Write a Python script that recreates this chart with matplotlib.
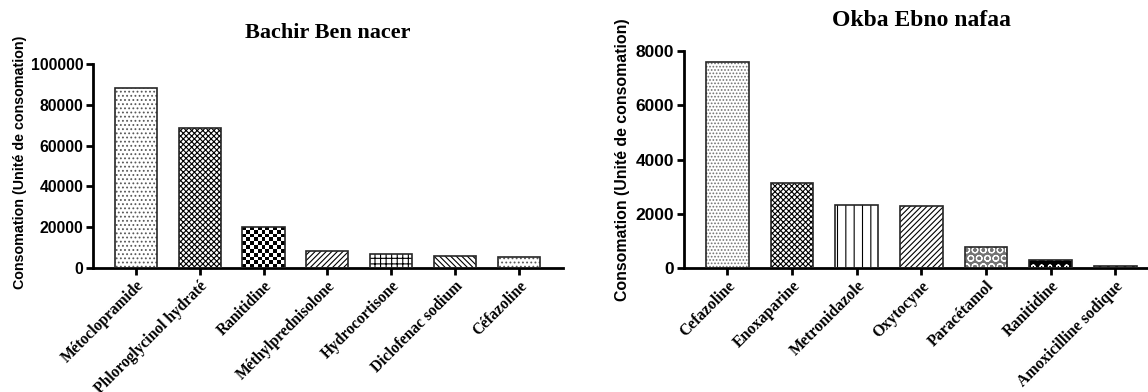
#importing libraries
import numpy as np
import matplotlib.pyplot as plt

plt.rcParams['hatch.linewidth'] = 0.8

# data - Bachir Ben nacer
drugs_bbn = ['Métoclopramide', 'Phloroglycinol hydraté', 'Ranitidine', 'Méthylprednisolone',
             'Hydrocortisone', 'Diclofenac sodium', 'Céfazoline']
conso_bbn = [88400, 68800, 20200, 8400, 6700, 6000, 5500]

# data - Okba Ebno nafaa
drugs_oen = ['Cefazoline', 'Enoxaparine', 'Metronidazole', 'Oxytocyne',
             'Paracétamol', 'Ranitidine', 'Amoxicilline sodique']
conso_oen = [7600, 3150, 2340, 2300, 770, 300, 100]

# bar styles (face, hatch, hatch colour)
style_bbn = [('white', '....', '0.35'), ('white', 'xxxxxx', 'black'), ('white', 'checker', 'black'),
             ('white', '//////', 'black'), ('white', '+++', 'black'), ('white', '\\\\\\\\\\\\', 'black'),
             ('white', '....', '0.35')]
style_oen = [('white', '.....', '0.45'), ('white', 'xxxxxx', 'black'), ('white', '||', 'black'),
             ('white', '//////', 'black'), ('0.45', 'OO', 'white'), ('black', 'oo', 'white'),
             ('0.75', '..', 'black')]

fig = plt.figure(figsize=(11.48, 3.92), dpi=100)
ax1 = fig.add_axes([93/1148, 1-268/392, 470/1148, 204/392])
ax2 = fig.add_axes([684/1148, 1-268.3/392, 476/1148, 217.6/392])


def draw(ax, names, values, styles, title, ymax, ystep, title_y, tsize, lsize, xsize, ttsize):
    x = np.arange(len(names))
    ax.set_xlim(-0.67, 6.69)
    ax.set_ylim(0, ymax)
    for i in range(len(names)):
        face, hatch, hcol = styles[i]
        if hatch == 'checker':
            b = ax.bar(x[i], values[i], width=0.66, color='white', lw=0, zorder=2)
            # pixel size of the bar, to get square cells
            p0 = ax.transData.transform((x[i] - 0.33, 0))
            p1 = ax.transData.transform((x[i] + 0.33, values[i]))
            ncol = 11
            nrow = int(round(ncol * (p1[1] - p0[1]) / (p1[0] - p0[0])))
            chk = np.indices((nrow, ncol)).sum(axis=0) % 2
            im = ax.imshow(chk, cmap='gray', interpolation='nearest', aspect='auto',
                           extent=(x[i] - 0.33, x[i] + 0.33, 0, values[i]), zorder=2)
            im.set_clip_path(b.patches[0])
        else:
            ax.bar(x[i], values[i], width=0.66, color=face, edgecolor=hcol, hatch=hatch, lw=0, zorder=2)
        ax.bar(x[i], values[i], width=0.66, fill=False, edgecolor='0.15', lw=1.2, zorder=3)
    ax.set_xlim(-0.67, 6.69)
    ax.set_ylim(0, ymax)
    yt = np.arange(0, ymax + 1, ystep)
    ax.set_yticks(yt, labels=[str(v) for v in yt], family='Liberation Sans',
                  fontweight='bold', fontsize=tsize)
    ax.set_xticks(x, labels=names, rotation=45, ha='right', rotation_mode='anchor',
                  family='Liberation Serif', fontweight='bold', fontsize=xsize)
    ax.spines['top'].set_visible(False)
    ax.spines['right'].set_visible(False)
    ax.spines['left'].set_linewidth(2)
    ax.spines['bottom'].set_linewidth(2)
    ax.tick_params(width=2, length=5, pad=2)
    ax.set_ylabel('Consomation (Unité de consomation)', family='Liberation Sans',
                  fontweight='bold', fontsize=lsize)
    ax.set_title(title, family='Liberation Serif', fontweight='bold', fontsize=ttsize, y=title_y)


draw(ax1, drugs_bbn, conso_bbn, style_bbn, 'Bachir Ben nacer', 100000, 20000, 1.085, 11.3, 10.3, 11.2, 16)
draw(ax2, drugs_oen, conso_oen, style_oen, 'Okba Ebno nafaa', 8000, 2000, 1.075, 12.5, 11.4, 11.4, 17)
ax1.yaxis.set_label_coords(-0.14, 0.52)
ax2.yaxis.set_label_coords(-0.113, 0.5)

plt.savefig('out.png', dpi=100)
